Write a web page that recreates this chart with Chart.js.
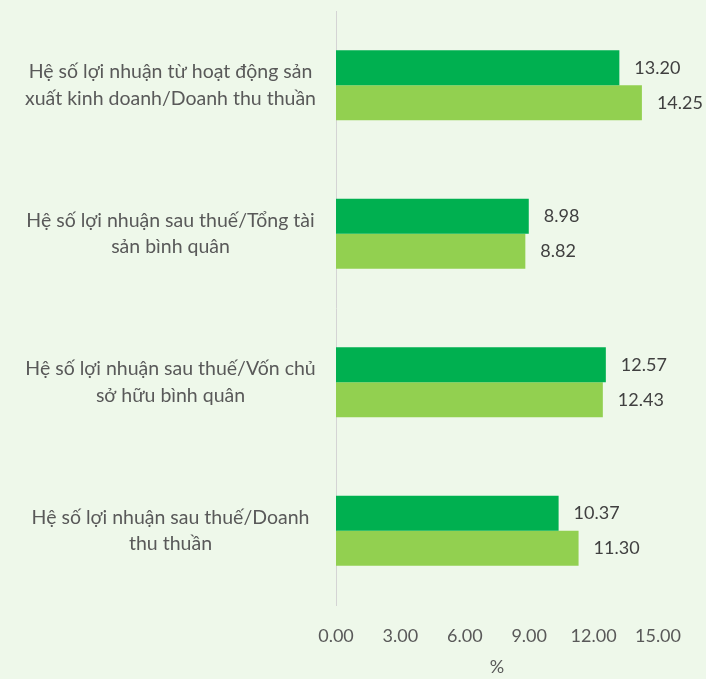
<!DOCTYPE html>
<html>
<head>
<meta charset="utf-8">
<script src="https://cdn.jsdelivr.net/npm/chart.js@4"></script>
<style>
  html, body { margin: 0; padding: 0; background: #eef8ea; }
  #wrap { width: 706px; height: 679px; }
</style>
</head>
<body>
<div id="wrap"><canvas id="myChart" width="706" height="679"></canvas></div>
<script>
const categories = [
  ["Hệ số lợi nhuận từ hoạt động sản", "xuất kinh doanh/Doanh thu thuần"],
  ["Hệ số lợi nhuận sau thuế/Tổng tài", "sản bình quân"],
  ["Hệ số lợi nhuận sau thuế/Vốn chủ", "sở hữu bình quân"],
  ["Hệ số lợi nhuận sau thuế/Doanh", "thu thuần"],
];
const seriesA = [13.20, 8.98, 12.57, 10.37];
const seriesB = [14.25, 8.82, 12.43, 11.30];
const xTicks = [0, 3, 6, 9, 12, 15];

const fontFamily = "Lato, 'Open Sans', sans-serif";
const textColor = "#595959";

// value labels drawn next to each bar end
const valueLabels = {
  id: "valueLabels",
  afterDatasetsDraw(chart) {
    const ctx = chart.ctx;
    ctx.save();
    ctx.font = "18px " + fontFamily;
    ctx.fillStyle = "#404040";
    ctx.textAlign = "left";
    ctx.textBaseline = "middle";
    chart.data.datasets.forEach((ds, i) => {
      chart.getDatasetMeta(i).data.forEach((bar, j) => {
        ctx.fillText(ds.data[j].toFixed(2), bar.x + 15, bar.y);
      });
    });
    ctx.restore();
  },
};

const ctx = document.getElementById("myChart").getContext("2d");
const myChart = new Chart(ctx, {
  type: "bar",
  data: {
    labels: categories,
    datasets: [
      {
        label: "Series 1",
        data: seriesA,
        backgroundColor: "#00b050",
        borderWidth: 0,
      },
      {
        label: "Series 2",
        data: seriesB,
        backgroundColor: "#92d050",
        borderWidth: 0,
      },
    ],
  },
  options: {
    indexAxis: "y",
    responsive: false,
    animation: false,
    layout: { padding: { top: 11, right: 48, bottom: 0, left: 0 } },
    datasets: {
      bar: { barPercentage: 1, categoryPercentage: 0.47 },
    },
    plugins: {
      legend: { display: false },
      tooltip: { enabled: false },
    },
    scales: {
      x: {
        min: 0,
        max: 15,
        afterBuildTicks(scale) {
          scale.ticks = xTicks.map((v) => ({ value: v }));
        },
        afterFit(scale) {
          scale.height = 74;
        },
        grid: { display: false, drawTicks: false },
        border: { display: false },
        ticks: {
          padding: 20,
          color: textColor,
          font: { family: fontFamily, size: 18 },
          callback: (v) => Number(v).toFixed(2),
        },
        title: {
          display: true,
          text: "%",
          color: textColor,
          font: { family: fontFamily, size: 18 },
          padding: { top: 0, bottom: 1 },
        },
      },
      y: {
        afterFit(scale) {
          scale.width = 336;
          scale.paddingTop = 0;
          scale.paddingBottom = 0;
        },
        grid: { display: false, drawTicks: false },
        border: { display: true, color: "#d4d4d4", width: 1 },
        ticks: {
          padding: 20,
          crossAlign: "center",
          color: textColor,
          font: { family: fontFamily, size: 19.5, lineHeight: 1.38 },
        },
      },
    },
  },
  plugins: [valueLabels],
});
</script>
</body>
</html>
